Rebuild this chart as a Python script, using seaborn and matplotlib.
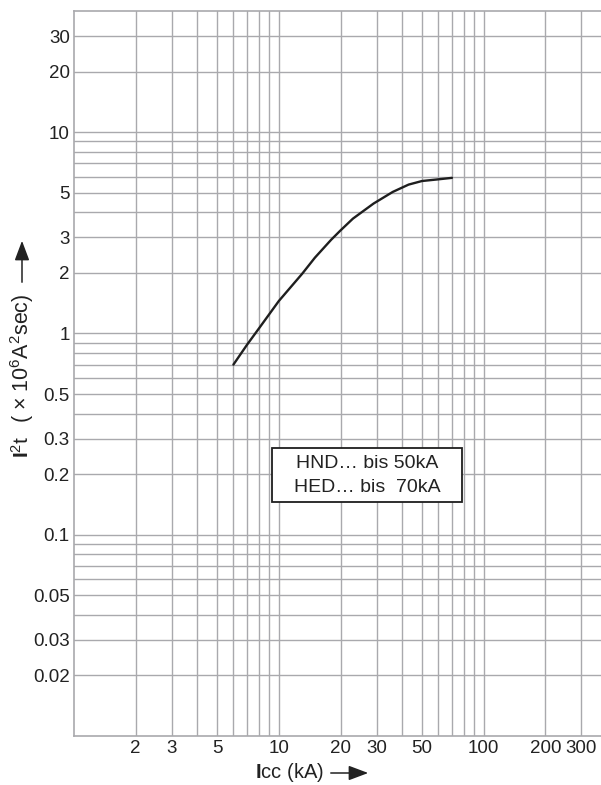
import matplotlib
matplotlib.use("Agg")
import matplotlib.pyplot as plt
import matplotlib.patches as mpatches
import seaborn as sns
import pandas as pd

# ---- data ----
icc_ka = [6, 7, 8, 10, 13, 15, 18, 20, 23, 29, 36, 43, 50, 59, 70]
i2t = [0.70, 0.88, 1.06, 1.45, 1.98, 2.38, 2.92, 3.25, 3.72, 4.42, 5.05,
       5.49, 5.72, 5.82, 5.93]

x_major = [2, 3, 5, 10, 20, 30, 50, 100, 200, 300]
x_major_labels = ["2", "3", "5", "10", "20", "30", "50", "100", "200", "300"]
x_minor = [4, 6, 7, 8, 9, 40, 60, 70, 80, 90]
y_major = [0.02, 0.03, 0.05, 0.1, 0.2, 0.3, 0.5, 1, 2, 3, 5, 10, 20, 30]
y_major_labels = ["0.02", "0.03", "0.05", "0.1", "0.2", "0.3", "0.5",
                  "1", "2", "3", "5", "10", "20", "30"]
y_minor = [0.04, 0.06, 0.07, 0.08, 0.09, 0.4, 0.6, 0.7, 0.8, 0.9,
           4, 6, 7, 8, 9]

legend_lines = ["HND… bis 50kA", "HED… bis  70kA"]

sns.set_style("white")
plt.rcParams['font.family'] = ['Liberation Sans', 'DejaVu Sans']
plt.rcParams['mathtext.fontset'] = 'custom'
plt.rcParams['mathtext.rm'] = 'Liberation Sans'
plt.rcParams['mathtext.it'] = 'Liberation Sans'
plt.rcParams['mathtext.bf'] = 'Liberation Sans:bold'

W, H = 601, 785
fig = plt.figure(figsize=(W / 100, H / 100), dpi=100)
ax = fig.add_axes([74 / W, 1 - 736 / H, (W - 74) / W + 0.01, (736 - 11) / H])

df = pd.DataFrame({"icc": icc_ka, "i2t": i2t})
sns.lineplot(data=df, x="icc", y="i2t", ax=ax, color="#1e1e1e",
             linewidth=1.7, zorder=5)

ax.set_xscale("log")
ax.set_yscale("log")
ax.set_xlim(1, 400)
ax.set_ylim(0.01, 40)

gcol = "#a9a9ad"
txt = "#222222"
ax.set_xticks(x_major)
ax.set_xticklabels(x_major_labels)
ax.set_xticks(x_minor, minor=True)
ax.set_xticklabels([], minor=True)
ax.set_yticks(y_major)
ax.set_yticklabels(y_major_labels)
ax.set_yticks(y_minor, minor=True)
ax.set_yticklabels([], minor=True)
ax.tick_params(which="both", length=0, labelsize=13.5, colors=txt)
ax.tick_params(axis="x", pad=3)
ax.tick_params(axis="y", pad=3)
ax.grid(True, which="both", color=gcol, linewidth=1.0)
ax.set_xlabel("")
ax.set_ylabel("")
for s in ["left", "bottom", "top"]:
    ax.spines[s].set_color(gcol)
    ax.spines[s].set_linewidth(1.2)
ax.spines["right"].set_visible(False)

# legend box
fig.patches.append(mpatches.Rectangle(
    (272 / W, 1 - 502 / H), (462 - 272) / W, (502 - 448) / H,
    transform=fig.transFigure, facecolor="white", edgecolor="#1e1e1e",
    linewidth=1.3, zorder=10))
for line, yy in zip(legend_lines, [464, 488]):
    fig.text(367 / W, 1 - yy / H, line, ha="center", va="center",
             fontsize=14, color=txt, zorder=11)

# axis labels
fig.text(255 / W, 1 - 773 / H, r"$\mathbf{I}$cc (kA)", ha="left", va="center",
         fontsize=14.5, color=txt)
fig.patches.append(mpatches.FancyArrowPatch(
    (328 / W, 1 - 773 / H), (371 / W, 1 - 773 / H), transform=fig.transFigure,
    arrowstyle="-|>,head_length=8,head_width=3", mutation_scale=1.5,
    color=txt, linewidth=1.1))

fig.text(22 / W, 1 - 458 / H, r"$\mathbf{I}^2$t",
         ha="center", va="bottom", rotation=90, fontsize=15, color=txt)
fig.text(22 / W, 1 - 423 / H, r"( $\times$ 10$^6$A$^2$sec)",
         ha="center", va="bottom", rotation=90, fontsize=15.5, color=txt)
fig.patches.append(mpatches.FancyArrowPatch(
    (22 / W, 1 - 285 / H), (22 / W, 1 - 238 / H), transform=fig.transFigure,
    arrowstyle="-|>,head_length=8,head_width=3", mutation_scale=1.5,
    color=txt, linewidth=1.1))

fig.savefig("out.png", dpi=100)
